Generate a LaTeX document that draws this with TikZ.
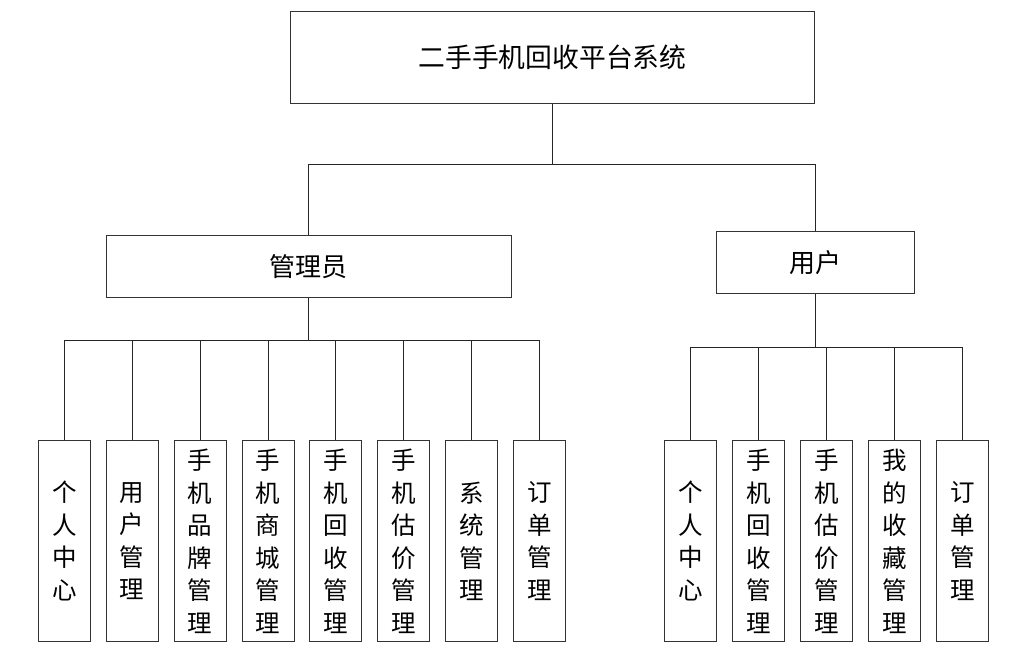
\documentclass[tikz,border=0pt]{standalone}
\usepackage{fontspec}
\newfontfamily\cjk{Noto Sans CJK SC}
\begin{document}
\begin{tikzpicture}[x=1pt,y=-1pt,
  box/.style={draw=black!80,line width=1pt,fill=white,inner sep=0pt,font=\cjk\fontsize{26}{30}\selectfont},
  leaf/.style={box,minimum width=52pt,minimum height=201pt,align=center,font=\cjk\fontsize{24.5}{32.5}\selectfont},
  conn/.style={draw=black!85,line width=1pt}]
\useasboundingbox (0,0) rectangle (1023,658);
\node[box,minimum width=523.5pt,minimum height=92pt,font=\cjk\fontsize{26.8}{30}\selectfont] (top) at (552.5,57.2) {二手手机回收平台系统};
\node[box,minimum width=405pt,minimum height=61.5pt] (admin) at (308.6,266.5) {管理员};
\node[box,minimum width=197.5pt,minimum height=61.5pt] (user) at (815.5,262.7) {用户};
\foreach \n/\x/\t in {1/64.3/个\\人\\中\\心, 2/132.2/用\\户\\管\\理, 3/200.1/手\\机\\品\\牌\\管\\理, 4/268/手\\机\\商\\城\\管\\理, 5/335.9/手\\机\\回\\收\\管\\理, 6/403.8/手\\机\\估\\价\\管\\理, 7/471.7/系\\统\\管\\理, 8/539.5/订\\单\\管\\理}
  \node[leaf] (a\n) at (\x,541.2) {\t};
\foreach \n/\x/\t in {1/690.8/个\\人\\中\\心, 2/758.8/手\\机\\回\\收\\管\\理, 3/826.8/手\\机\\估\\价\\管\\理, 4/894.8/我\\的\\收\\藏\\管\\理, 5/962.8/订\\单\\管\\理}
  \node[leaf] (u\n) at (\x,541.2) {\t};
% connectors
\draw[conn] (top.south) -- ++(0,61) coordinate (tj);
\draw[conn] (tj) -| (admin.north);
\draw[conn] (tj) -| (user.north);
\draw[conn] (admin.south) -- ++(0,43) coordinate (aj);
\draw[conn] (aj) -| (a1.north);
\draw[conn] (aj) -| (a8.north);
\foreach \n in {2,...,7} \draw[conn] (a\n.north) -- (a\n.north |- aj);
\draw[conn] (user.south) -- ++(0,53.5) coordinate (uj);
\draw[conn] (uj) -| (u1.north);
\draw[conn] (uj) -| (u5.north);
\foreach \n in {2,3,4} \draw[conn] (u\n.north) -- (u\n.north |- uj);
\end{tikzpicture}
\end{document}
